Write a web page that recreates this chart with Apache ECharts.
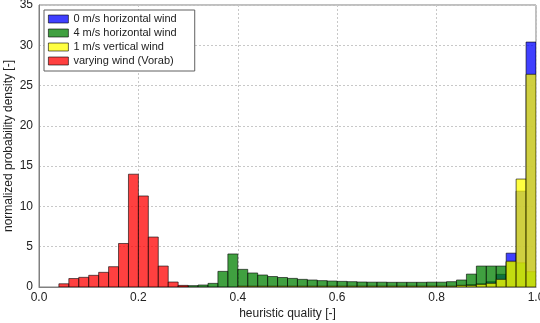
<!DOCTYPE html>
<html>
<head>
<meta charset="utf-8">
<script src="https://cdn.jsdelivr.net/npm/echarts@6/dist/echarts.min.js"></script>
<style>
  html, body { margin: 0; padding: 0; background: #fff; }
  #chart { width: 540px; height: 323px; }
</style>
</head>
<body>
<div id="chart"></div>
<script>
// histogram bins, width 0.02, start of each bin
const binWidth = 0.02;
const binStart = [
  0.00, 0.02, 0.04, 0.06, 0.08, 0.10, 0.12, 0.14, 0.16, 0.18,
  0.20, 0.22, 0.24, 0.26, 0.28, 0.30, 0.32, 0.34, 0.36, 0.38,
  0.40, 0.42, 0.44, 0.46, 0.48, 0.50, 0.52, 0.54, 0.56, 0.58,
  0.60, 0.62, 0.64, 0.66, 0.68, 0.70, 0.72, 0.74, 0.76, 0.78,
  0.80, 0.82, 0.84, 0.86, 0.88, 0.90, 0.92, 0.94, 0.96, 0.98
];

// 0 m/s horizontal wind
const wind0h = [
  0, 0, 0, 0, 0, 0, 0, 0, 0, 0,
  0, 0, 0, 0, 0, 0, 0, 0, 0, 0,
  0, 0, 0, 0, 0, 0, 0, 0, 0, 0,
  0, 0, 0, 0, 0, 0, 0, 0, 0, 0,
  0, 0, 0.2, 0.3, 0.4, 0.66, 1.57, 4.2, 11.9, 30.4
];
// 4 m/s horizontal wind
const wind4h = [
  0, 0, 0, 0, 0, 0, 0, 0, 0, 0,
  0, 0, 0, 0, 0.1, 0.17, 0.25, 0.45, 1.94, 4.1,
  2.19, 1.74, 1.49, 1.3, 1.18, 1.07, 0.95, 0.87, 0.79, 0.74,
  0.7, 0.66, 0.62, 0.6, 0.6, 0.58, 0.58, 0.58, 0.58, 0.6,
  0.6, 0.66, 0.87, 1.6, 2.6, 2.6, 2.6, 3.1, 3.0, 1.9
];
// 1 m/s vertical wind
const wind1v = [
  0, 0, 0, 0, 0, 0, 0, 0, 0, 0,
  0, 0, 0, 0, 0, 0, 0, 0, 0, 0,
  0.1, 0.1, 0.1, 0.1, 0.1, 0.1, 0.1, 0.1, 0.1, 0.1,
  0.1, 0.1, 0.1, 0.1, 0.1, 0.1, 0.1, 0.1, 0.1, 0.1,
  0.1, 0.1, 0.2, 0.2, 0.33, 0.46, 0.95, 3.2, 13.4, 26.4
];
// varying wind (Vorab)
const windVar = [
  0, 0, 0.4, 1.05, 1.2, 1.45, 1.82, 2.52, 5.4, 14.0,
  11.3, 6.2, 2.6, 0.62, 0.2, 0, 0, 0, 0, 0,
  0, 0, 0, 0, 0, 0, 0, 0, 0, 0,
  0, 0, 0, 0, 0, 0, 0, 0, 0, 0,
  0, 0, 0, 0, 0, 0, 0, 0, 0, 0
];

const seriesDefs = [
  { name: '0 m/s horizontal wind', color: '#0000ff', values: wind0h },
  { name: '4 m/s horizontal wind', color: '#008000', values: wind4h },
  { name: '1 m/s vertical wind', color: '#ffff00', values: wind1v },
  { name: 'varying wind (Vorab)', color: '#ff0000', values: windVar }
];

function toBins(values) {
  const out = [];
  binStart.forEach((x, i) => {
    if (values[i] > 0) out.push([x, x + binWidth, values[i]]);
  });
  return out;
}

function renderBar(color) {
  return function (params, api) {
    const top = api.coord([api.value(0), api.value(2)]);
    const bottom = api.coord([api.value(1), 0]);
    return {
      type: 'rect',
      shape: { x: top[0], y: top[1], width: bottom[0] - top[0], height: bottom[1] - top[1] },
      style: { fill: color, stroke: '#000', lineWidth: 0.8, opacity: 0.75 }
    };
  };
}

const chart = echarts.init(document.getElementById('chart'));
const font = 'Liberation Sans, Arial, sans-serif';

chart.setOption({
  animation: false,
  backgroundColor: '#fff',
  textStyle: { fontFamily: font },
  grid: {
    left: 39, right: 4, top: 5, bottom: 36,
    outerBoundsMode: 'none',
    containLabel: false,
    show: true, borderColor: '#808080', borderWidth: 1, backgroundColor: 'transparent'
  },
  legend: {
    orient: 'vertical',
    left: 44, top: 10,
    padding: [2, 18, 3, 4],
    itemGap: 0,
    itemWidth: 20, itemHeight: 8,
    icon: 'rect',
    borderColor: '#606060', borderWidth: 1,
    backgroundColor: '#fff',
    textStyle: { fontSize: 11, color: '#222', lineHeight: 14, fontFamily: font },
    data: seriesDefs.map(s => ({
      name: s.name,
      itemStyle: { color: s.color, opacity: 0.75, borderColor: '#000', borderWidth: 0.8 }
    }))
  },
  xAxis: {
    type: 'value', min: 0, max: 1, interval: 0.2,
    name: 'heuristic quality [-]', nameLocation: 'middle', nameGap: 21,
    nameMoveOverlap: false,
    nameTextStyle: { fontSize: 12, color: '#222' },
    axisLine: { lineStyle: { color: '#808080' } },
    axisTick: { show: false },
    axisLabel: { fontSize: 12, color: '#222', margin: 5, formatter: v => v.toFixed(1) },
    splitLine: { lineStyle: { color: '#c8c8c8', type: [2, 2] } }
  },
  yAxis: {
    type: 'value', min: 0, max: 35, interval: 5,
    name: 'normalized probability density [-]', nameLocation: 'middle', nameGap: 24,
    nameMoveOverlap: false,
    nameTextStyle: { fontSize: 12, color: '#222' },
    axisLine: { show: true, lineStyle: { color: '#808080' } },
    axisTick: { show: false },
    axisLabel: { fontSize: 12, color: '#222', margin: 6 },
    splitLine: { lineStyle: { color: '#c8c8c8', type: [2, 2] } }
  },
  series: seriesDefs.map(s => ({
    name: s.name,
    type: 'custom',
    renderItem: renderBar(s.color),
    itemStyle: { color: s.color },
    encode: { x: [0, 1], y: 2 },
    clip: true,
    data: toBins(s.values)
  }))
});

window.addEventListener('resize', () => chart.resize());
</script>
</body>
</html>
